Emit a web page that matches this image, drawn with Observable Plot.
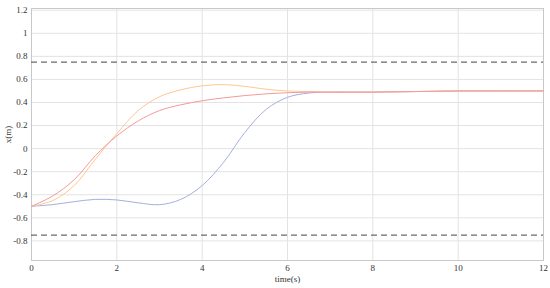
<!DOCTYPE html>
<html>
<head>
<meta charset="utf-8">
<script src="https://cdn.jsdelivr.net/npm/d3@7"></script>
<script src="https://cdn.jsdelivr.net/npm/@observablehq/plot@0.6"></script>
<style>
  html, body { margin: 0; padding: 0; background: #fff; }
  svg, svg text, svg g { font-family: "Liberation Serif", "DejaVu Serif", serif !important; }
</style>
</head>
<body>
<div id="chart"></div>
<script>
const times   = [0, 0.5, 1, 1.5, 2, 2.5, 3, 3.5, 4, 4.5, 5, 5.5, 6, 6.5, 7, 8, 9, 10, 11, 12];
const blue    = [-0.50, -0.485, -0.46, -0.44, -0.445, -0.47, -0.486, -0.44, -0.32, -0.12, 0.14, 0.34, 0.445, 0.482, 0.49, 0.49, 0.495, 0.50, 0.50, 0.50];
const orange  = [-0.50, -0.45, -0.32, -0.09, 0.13, 0.33, 0.45, 0.51, 0.545, 0.555, 0.54, 0.515, 0.50, 0.495, 0.49, 0.49, 0.495, 0.50, 0.50, 0.50];
const red     = [-0.50, -0.41, -0.27, -0.06, 0.11, 0.24, 0.33, 0.38, 0.415, 0.44, 0.46, 0.475, 0.485, 0.49, 0.49, 0.49, 0.495, 0.50, 0.50, 0.50];
const bounds  = [0.75, -0.75];
const xTicks  = [0, 2, 4, 6, 8, 10, 12];
const yTicks  = [-0.8, -0.6, -0.4, -0.2, 0, 0.2, 0.4, 0.6, 0.8, 1, 1.2];
const seriesNames  = ["series 1", "series 2", "series 3"];
const seriesColors = ["#a3afe2", "#fec891", "#f39a9a"];

const rows = [];
[blue, orange, red].forEach((vals, k) => {
  vals.forEach((v, i) => rows.push({t: times[i], x: v, s: seriesNames[k]}));
});

const fmt = d => String(+d.toFixed(1));

const chart = Plot.plot({
  width: 550,
  height: 288,
  marginLeft: 31,
  marginRight: 7,
  marginTop: 8,
  marginBottom: 28,
  style: {fontSize: "9px", color: "#333", background: "#fff"},
  x: {domain: [0, 12]},
  y: {domain: [-0.97, 1.215]},
  color: {domain: seriesNames, range: seriesColors},
  marks: [
    Plot.gridX(xTicks, {stroke: "#e3e3e3", strokeOpacity: 1}),
    Plot.gridY(yTicks, {stroke: "#e3e3e3", strokeOpacity: 1}),
    Plot.frame({stroke: "#c8c8c8"}),
    Plot.axisX(xTicks, {tickSize: 0, tickPadding: 4, label: "time(s)", labelAnchor: "center", labelArrow: "none", labelOffset: 21, fill: "#333"}),
    Plot.axisY(yTicks, {tickSize: 0, tickPadding: 4, tickFormat: fmt, label: "x(m)", labelAnchor: "center", labelArrow: "none", labelOffset: 27, fill: "#333"}),
    Plot.ruleY(bounds, {stroke: "#6a6a6a", strokeWidth: 1.2, strokeDasharray: "6,4"}),
    Plot.line(rows, {x: "t", y: "x", z: "s", stroke: "s", strokeWidth: 1, curve: "catmull-rom"})
  ]
});
document.getElementById("chart").appendChild(chart);
</script>
</body>
</html>
